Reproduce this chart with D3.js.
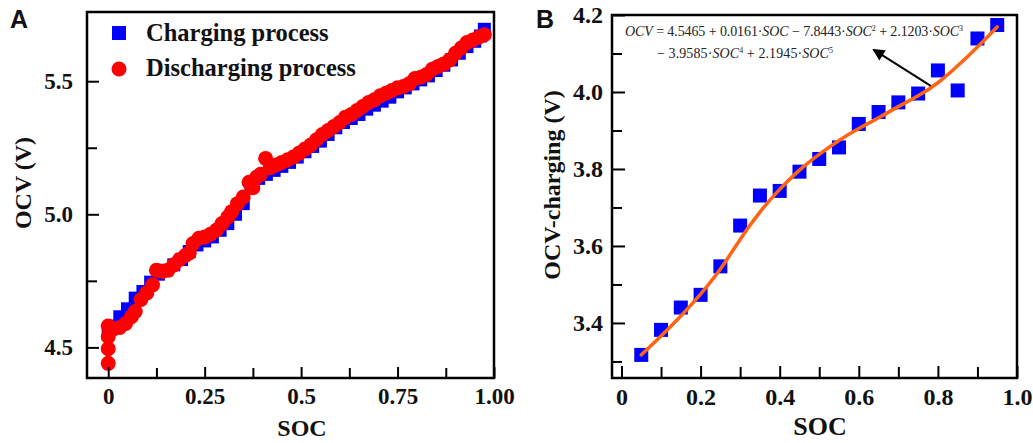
<!DOCTYPE html>
<html>
<head>
<meta charset="utf-8">
<script src="https://cdn.jsdelivr.net/npm/d3@7"></script>
<style>
  html, body { margin: 0; padding: 0; background: #fff; }
  svg { display: block; }
</style>
</head>
<body>
<svg id="chart" width="1033" height="443"></svg>
<script>
// ---------- Panel A: OCV vs SOC, charging and discharging runs ----------
const chargingPoints = [
  [0, 4.555], [0.01, 4.58], [0.03, 4.615], [0.05, 4.645], [0.07, 4.685], [0.09, 4.71],
  [0.11, 4.745], [0.13, 4.775], [0.15, 4.79], [0.17, 4.81], [0.19, 4.83], [0.21, 4.86],
  [0.23, 4.885], [0.25, 4.9], [0.27, 4.915], [0.29, 4.94], [0.31, 4.965], [0.33, 5.0],
  [0.35, 5.04], [0.37, 5.11], [0.39, 5.135], [0.41, 5.15], [0.43, 5.165], [0.45, 5.18],
  [0.47, 5.195], [0.49, 5.215], [0.51, 5.235], [0.53, 5.255], [0.55, 5.275], [0.57, 5.3],
  [0.59, 5.325], [0.61, 5.345], [0.63, 5.36], [0.65, 5.375], [0.67, 5.395], [0.69, 5.41],
  [0.71, 5.425], [0.73, 5.44], [0.75, 5.46], [0.77, 5.475], [0.79, 5.49], [0.81, 5.505],
  [0.83, 5.52], [0.85, 5.54], [0.87, 5.56], [0.89, 5.58], [0.91, 5.605], [0.93, 5.63],
  [0.95, 5.65], [0.965, 5.67], [0.975, 5.695]
];
const dischargingPoints = [
  [0, 4.44], [0, 4.495], [0, 4.54], [0, 4.58], [0.015, 4.57], [0.03, 4.575], [0.045, 4.59],
  [0.06, 4.615], [0.07, 4.635], [0.085, 4.68], [0.1, 4.705], [0.115, 4.735], [0.125, 4.79],
  [0.14, 4.785], [0.155, 4.79], [0.17, 4.81], [0.185, 4.83], [0.2, 4.845], [0.21, 4.855],
  [0.22, 4.89], [0.235, 4.91], [0.25, 4.915], [0.265, 4.925], [0.28, 4.94], [0.295, 4.965],
  [0.31, 4.99], [0.32, 5.01], [0.335, 5.04], [0.35, 5.065], [0.365, 5.12], [0.375, 5.1],
  [0.385, 5.14], [0.395, 5.15], [0.408, 5.21], [0.42, 5.175], [0.435, 5.185], [0.45, 5.195],
  [0.465, 5.205], [0.48, 5.215], [0.495, 5.23], [0.51, 5.245], [0.525, 5.26], [0.54, 5.28],
  [0.555, 5.3], [0.57, 5.315], [0.585, 5.33], [0.6, 5.345], [0.615, 5.365], [0.63, 5.375],
  [0.645, 5.39], [0.66, 5.405], [0.675, 5.42], [0.69, 5.43], [0.705, 5.445], [0.72, 5.455],
  [0.735, 5.465], [0.75, 5.475], [0.765, 5.48], [0.78, 5.49], [0.795, 5.51], [0.81, 5.515],
  [0.825, 5.525], [0.84, 5.545], [0.855, 5.555], [0.87, 5.565], [0.885, 5.58], [0.9, 5.605],
  [0.915, 5.625], [0.93, 5.645], [0.945, 5.655], [0.96, 5.665], [0.975, 5.675]
];
const legendLabelsA = ["Charging process", "Discharging process"];
const socTicksA = [0, 0.25, 0.5, 0.75, 1.0];
const socTickLabelsA = ["0", "0.25", "0.5", "0.75", "1.00"];
const socMinorTicksA = [0.125, 0.375, 0.625, 0.875];
const ocvTicksA = [4.5, 5.0, 5.5];
const ocvTickLabelsA = ["4.5", "5.0", "5.5"];
const ocvMinorTicksA = [4.75, 5.25];

// ---------- Panel B: charging OCV with its polynomial fit ----------
const socB = [0.05, 0.1, 0.15, 0.2, 0.25, 0.3, 0.35, 0.4, 0.45, 0.5,
              0.55, 0.6, 0.65, 0.7, 0.75, 0.8, 0.85, 0.9, 0.95];
const ocvChargingB = [3.317, 3.382, 3.44, 3.473, 3.547, 3.653, 3.731, 3.743, 3.793, 3.826,
                      3.856, 3.917, 3.948, 3.973, 3.996, 4.056, 4.004, 4.139, 4.174];
const fitOcvB = [3.317, 3.366, 3.418, 3.475, 3.54, 3.617, 3.688, 3.747, 3.797, 3.838,
                 3.874, 3.905, 3.933, 3.962, 3.99, 4.024, 4.068, 4.117, 4.169];
const socTicksB = [0, 0.2, 0.4, 0.6, 0.8, 1.0];
const socTickLabelsB = ["0", "0.2", "0.4", "0.6", "0.8", "1.0"];
const socMinorTicksB = [0.1, 0.3, 0.5, 0.7, 0.9];
const ocvTicksB = [3.4, 3.6, 3.8, 4.0, 4.2];
const ocvTickLabelsB = ["3.4", "3.6", "3.8", "4.0", "4.2"];
const ocvMinorTicksB = [3.3, 3.5, 3.7, 3.9, 4.1];

const SERIF = "'Liberation Serif', 'Times New Roman', Times, serif";
const SANS = "'Liberation Sans', Arial, Helvetica, sans-serif";
const BLUE = "#0000ff", RED = "#ff0000", ORANGE = "#ff6414";

const svg = d3.select("#chart");

// Draws a boxed frame with inward major/minor ticks and bold serif tick labels.
function frame(g, x, y, opts) {
  const [x0, x1] = x.range();
  const [y0, y1] = y.range(); // y0 = bottom, y1 = top

  const bottom = g.append("g").attr("transform", `translate(0,${y0})`)
    .call(d3.axisBottom(x).tickValues(opts.xTicks)
      .tickFormat((d, i) => opts.xLabels[i])
      .tickSizeInner(-opts.majorX).tickSizeOuter(0).tickPadding(opts.xPad));
  const bottomMinor = g.append("g").attr("transform", `translate(0,${y0})`)
    .call(d3.axisBottom(x).tickValues(opts.xMinor).tickFormat("")
      .tickSizeInner(-opts.minorX).tickSizeOuter(0));
  const left = g.append("g").attr("transform", `translate(${x0},0)`)
    .call(d3.axisLeft(y).tickValues(opts.yTicks)
      .tickFormat((d, i) => opts.yLabels[i])
      .tickSizeInner(-opts.majorY).tickSizeOuter(0).tickPadding(opts.yPad));
  const leftMinor = g.append("g").attr("transform", `translate(${x0},0)`)
    .call(d3.axisLeft(y).tickValues(opts.yMinor).tickFormat("")
      .tickSizeInner(-opts.minorY).tickSizeOuter(0));

  [bottom, bottomMinor, left, leftMinor].forEach(a => {
    a.select(".domain").remove();
    a.selectAll(".tick line").attr("stroke", "#000").attr("stroke-width", 2);
    a.selectAll(".tick text")
      .attr("fill", "#111")
      .style("font-family", SERIF)
      .style("font-weight", "bold")
      .style("font-size", opts.tickFont + "px");
  });

  g.append("rect")
    .attr("x", x0).attr("y", y1)
    .attr("width", x1 - x0).attr("height", y0 - y1)
    .attr("fill", "none").attr("stroke", "#000").attr("stroke-width", 2.5);
}

function axisTitle(g, text, x, y, rotate, size) {
  g.append("text")
    .attr("transform", `translate(${x},${y})` + (rotate ? " rotate(-90)" : ""))
    .attr("text-anchor", "middle")
    .style("font-family", SERIF).style("font-weight", "bold")
    .style("font-size", size + "px").attr("fill", "#111")
    .text(text);
}

// ================= Panel A =================
const gA = svg.append("g");
const xA = d3.scaleLinear().domain([-0.055, 1.0]).range([87, 494]);
const yA = d3.scaleLinear().domain([4.385, 5.76]).range([378, 12]);

const clipA = svg.append("clipPath").attr("id", "clipA");
clipA.append("rect").attr("x", 87).attr("y", 12).attr("width", 407).attr("height", 366);

const markA = gA.append("g").attr("clip-path", "url(#clipA)");
const sqA = 13;
markA.selectAll("rect.charge").data(chargingPoints).join("rect")
  .attr("class", "charge")
  .attr("x", d => xA(d[0]) - sqA / 2).attr("y", d => yA(d[1]) - sqA / 2)
  .attr("width", sqA).attr("height", sqA).attr("fill", BLUE);
markA.selectAll("circle.discharge").data(dischargingPoints).join("circle")
  .attr("class", "discharge")
  .attr("cx", d => xA(d[0])).attr("cy", d => yA(d[1]))
  .attr("r", 7.5).attr("fill", RED);

frame(gA, xA, yA, {
  xTicks: socTicksA, xLabels: socTickLabelsA, xMinor: socMinorTicksA,
  yTicks: ocvTicksA, yLabels: ocvTickLabelsA, yMinor: ocvMinorTicksA,
  majorX: 11, minorX: 10, majorY: 12, minorY: 10,
  xPad: 10, yPad: 14, tickFont: 23
});

// legend
const legA = gA.append("g");
legA.append("rect").attr("x", 112).attr("y", 26).attr("width", 14).attr("height", 14).attr("fill", BLUE);
legA.append("circle").attr("cx", 119).attr("cy", 69).attr("r", 7.5).attr("fill", RED);
legA.selectAll("text").data(legendLabelsA).join("text")
  .attr("x", 146).attr("y", (d, i) => 41 + i * 35)
  .style("font-family", SERIF).style("font-weight", "bold").style("font-size", "24.5px")
  .attr("fill", "#111").text(d => d);

axisTitle(gA, "SOC", 302, 436, false, 24);
axisTitle(gA, "OCV (V)", 31, 183, true, 24);

svg.append("text").attr("x", 10).attr("y", 28)
  .style("font-family", SANS).style("font-weight", "bold").style("font-size", "25px")
  .attr("fill", "#111").text("A");

// ================= Panel B =================
const gB = svg.append("g");
const xB = d3.scaleLinear().domain([-0.024, 1.0]).range([612, 1017]);
const yB = d3.scaleLinear().domain([3.257, 4.2]).range([378, 15]);

const fitLine = d3.line()
  .x((d, i) => xB(socB[i])).y(d => yB(d))
  .curve(d3.curveNatural);

const sqB = 14;
gB.selectAll("rect.pt").data(ocvChargingB).join("rect")
  .attr("class", "pt")
  .attr("x", (d, i) => xB(socB[i]) - sqB / 2).attr("y", d => yB(d) - sqB / 2)
  .attr("width", sqB).attr("height", sqB).attr("fill", BLUE);

gB.append("path").datum(fitOcvB)
  .attr("d", fitLine)
  .attr("fill", "none").attr("stroke", ORANGE)
  .attr("stroke-width", 3.5).attr("stroke-linecap", "round");

frame(gB, xB, yB, {
  xTicks: socTicksB, xLabels: socTickLabelsB, xMinor: socMinorTicksB,
  yTicks: ocvTicksB, yLabels: ocvTickLabelsB, yMinor: ocvMinorTicksB,
  majorX: 12, minorX: 11, majorY: 13, minorY: 10,
  xPad: 10, yPad: 9, tickFont: 24
});

axisTitle(gB, "SOC", 820, 435, false, 26);
axisTitle(gB, "OCV-charging (V)", 560, 185, true, 24);

svg.append("text").attr("x", 536).attr("y", 28)
  .style("font-family", SANS).style("font-weight", "bold").style("font-size", "25px")
  .attr("fill", "#111").text("B");

// fitted-equation annotation
const eq = gB.append("g")
  .style("font-family", SERIF).style("font-size", "14px").attr("fill", "#222");

function eqLine(x, y, width, parts) {
  const t = eq.append("text").attr("x", x).attr("y", y)
    .attr("textLength", width).attr("lengthAdjust", "spacing");
  parts.forEach(p => {
    const s = t.append("tspan").text(p.t);
    if (p.i) s.style("font-style", "italic");
    if (p.sup) s.attr("dy", -5).style("font-size", "8px");
    if (p.down) s.attr("dy", 5);
  });
}
eqLine(625, 36, 338, [
  { t: "OCV", i: true }, { t: " = 4.5465 + 0.0161·" }, { t: "SOC", i: true },
  { t: " − 7.8443·" }, { t: "SOC", i: true }, { t: "2", sup: true },
  { t: " + 2.1203·", down: true }, { t: "SOC", i: true }, { t: "3", sup: true }
]);
eqLine(657, 58, 176, [
  { t: "− 3.9585·" }, { t: "SOC", i: true }, { t: "4", sup: true },
  { t: " + 2.1945·", down: true }, { t: "SOC", i: true }, { t: "5", sup: true }
]);

// arrow from the fitted curve to the equation
svg.append("defs").append("marker")
  .attr("id", "head").attr("viewBox", "0 0 10 10")
  .attr("refX", 9).attr("refY", 5)
  .attr("markerWidth", 6.5).attr("markerHeight", 6)
  .attr("markerUnits", "strokeWidth").attr("orient", "auto")
  .append("path").attr("d", "M0,0 L10,5 L0,10 Z").attr("fill", "#000");

gB.append("line")
  .attr("x1", xB(0.782)).attr("y1", yB(4.016))
  .attr("x2", xB(0.637)).attr("y2", yB(4.11))
  .attr("stroke", "#000").attr("stroke-width", 2)
  .attr("marker-end", "url(#head)");
</script>
</body>
</html>
